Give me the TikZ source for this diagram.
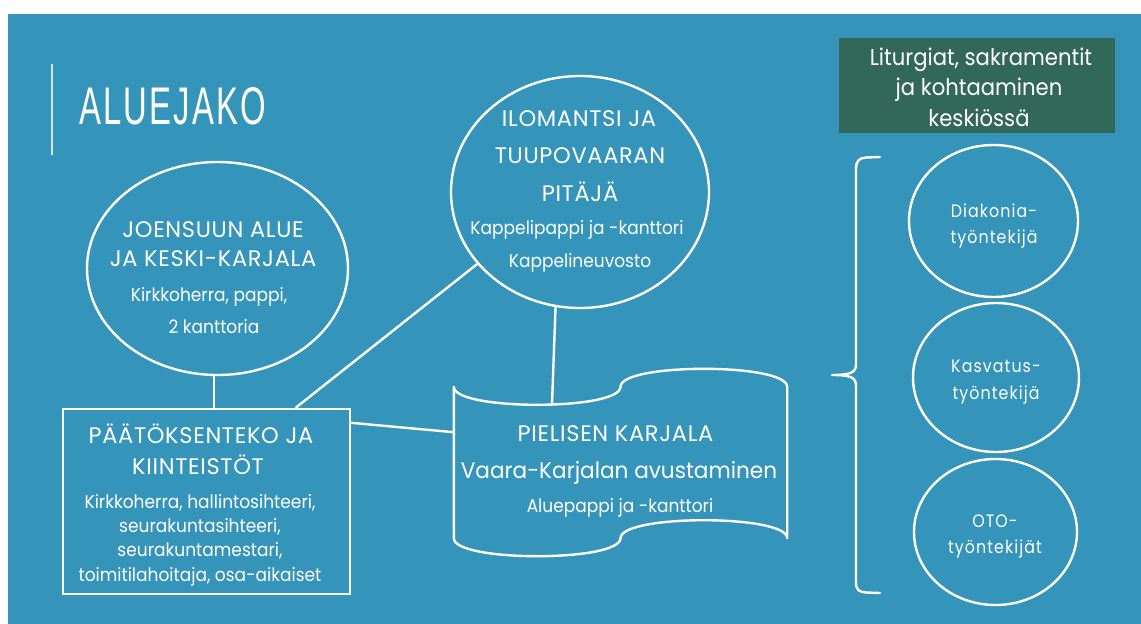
\documentclass[tikz,border=0pt]{standalone}
\usepackage{fontspec}
\setmainfont[FakeStretch=0.92]{Poppins}
\newfontfamily\titlefont[FakeStretch=0.62,LetterSpace=4]{Liberation Sans}
\newfontfamily\capfont[LetterSpace=3]{Poppins}
\newfontfamily\midfont[FakeStretch=0.96]{Poppins}
\newfontfamily\circfont[FakeStretch=0.88,LetterSpace=6]{Poppins}
\usetikzlibrary{shapes.geometric,calc}
\definecolor{bg}{HTML}{3594BA}
\definecolor{gbox}{HTML}{316858}
\definecolor{rule}{HTML}{CFE5EE}
\tikzset{
  ln/.style={draw=white,line width=2.4pt},
  ell/.style={ellipse,draw=white,line width=2.4pt,inner sep=0pt},
  txt/.style={text=white,inner sep=0pt,anchor=base},
  hd/.style={txt,font=\capfont\fontsize{22.5}{27}\selectfont},
  sb/.style={txt,font=\fontsize{18.5}{22}\selectfont},
  cc/.style={txt,font=\circfont\fontsize{18}{22}\selectfont},
}
\begin{document}
\begin{tikzpicture}[x=1pt,y=-1pt]
\useasboundingbox (0,0) rectangle (1141,624);
\fill[white] (0,0) rectangle (1141,624);
\fill[bg] (8,14) rectangle (1141,624);
% title
\draw[rule,line width=1.6pt] (52,64) -- (52,155);
\node[txt,anchor=base west,font=\titlefont\fontsize{53}{60}\selectfont] (title) at (79,124) {ALUEJAKO};
% green box
\node[fill=gbox,minimum width=276pt,minimum height=95pt,inner sep=0pt] (gb) at (977,85.5) {};
\node[txt,font=\fontsize{23}{28}\selectfont] (g1) at (981,65) {Liturgiat, sakramentit};
\node[txt,font=\fontsize{23}{28}\selectfont] (g2) at (979,95) {ja kohtaaminen};
\node[txt,font=\fontsize{23}{28}\selectfont] (g3) at (979,126) {keskiössä};
% ellipses
\node[ell,minimum width=261pt,minimum height=213pt] (joe) at (217.5,268.5) {};
\node[ell,minimum width=258pt,minimum height=232pt] (ilo) at (580,192) {};
% rectangle
\node[draw=white,line width=2.4pt,minimum width=287pt,minimum height=185pt,inner sep=0pt] (rect) at (206.5,501.5) {};
% scroll
\node[minimum width=333pt,minimum height=151pt,inner sep=0pt] (pie) at (620.5,462.5) {};
\draw[ln,line join=round] (pie.north west)
  .. controls ($(pie.north west)+(0,24)$) and ($(pie.north)+(0,24)$) .. (pie.north)
  .. controls ($(pie.north)+(0,-24)$) and ($(pie.north east)+(0,-24)$) .. (pie.north east)
  -- (pie.south east)
  .. controls ($(pie.south east)+(0,-24)$) and ($(pie.south)+(0,-24)$) .. (pie.south)
  .. controls ($(pie.south)+(0,24)$) and ($(pie.south west)+(0,24)$) .. (pie.south west)
  -- cycle;
\coordinate (pietop) at (552,404);
% right circles
\node[ell,minimum width=169pt,minimum height=152pt] (c1) at (993.5,221) {};
\node[ell,minimum width=166pt,minimum height=149pt] (c2) at (996,377.5) {};
\node[ell,minimum width=163pt,minimum height=146pt] (c3) at (995.5,532) {};
% brace
\draw[ln,line cap=round,line join=round] (880,157) -- (866,157.5)
  .. controls (859,158) and (856,161) .. (856,169) -- (856,364)
  .. controls (856,372) and (852,375) .. (832,375)
  .. controls (852,375) and (856,378) .. (856,386) -- (856,582)
  .. controls (856,590) and (859,592) .. (866,592.5) -- (880,593);
% connectors
\draw[ln] (joe.268) -- (joe.268 |- rect.north);
\draw[ln] (ilo.215) -- ($(rect.north west)!0.808!(rect.north east)$);
\draw[ln] (ilo.258) -- (pietop);
\draw[ln] ($(rect.north east)!0.08!(rect.south east)$) -- ($(pie.north west)!0.3!(pie.south west)$);
% texts
\node[hd] (j1) at (213,237) {JOENSUUN ALUE};
\node[hd] (j2) at (213,266) {JA KESKI-KARJALA};
\node[sb] (j3) at (209,301) {Kirkkoherra, pappi,};
\node[sb] (j4) at (214,333) {2 kanttoria};
\node[hd] (i1) at (579,126) {ILOMANTSI JA};
\node[hd] (i2) at (580,163) {TUUPOVAARAN};
\node[hd] (i3) at (580,201) {PITÄJÄ};
\node[sb] (i4) at (577,234) {Kappelipappi ja -kanttori};
\node[sb] (i5) at (580,267) {Kappelineuvosto};
\node[hd] (r1) at (201,443) {PÄÄTÖKSENTEKO JA};
\node[hd] (r2) at (198,474) {KIINTEISTÖT};
\node[sb] (r3) at (200,508) {Kirkkoherra, hallintosihteeri,};
\node[sb] (r4) at (200,532) {seurakuntasihteeri,};
\node[sb] (r5) at (200,556) {seurakuntamestari,};
\node[sb] (r6) at (200,581) {toimitilahoitaja, osa-aikaiset};
\node[hd] (p1) at (615.5,441) {PIELISEN KARJALA};
\node[txt,font=\midfont\fontsize{22.5}{27}\selectfont] (p2) at (619,478) {Vaara-Karjalan avustaminen};
\node[sb] (p3) at (620,512) {Aluepappi ja -kanttori};
\node[cc] (d1) at (994,217) {Diakonia-};
\node[cc] (d2) at (994,243) {työntekijä};
\node[cc] (k1) at (996,372) {Kasvatus-};
\node[cc] (k2) at (996,399) {työntekijä};
\node[cc] (o1) at (995,527) {OTO-};
\node[cc] (o2) at (995,553) {työntekijät};
\end{tikzpicture}
\end{document}
